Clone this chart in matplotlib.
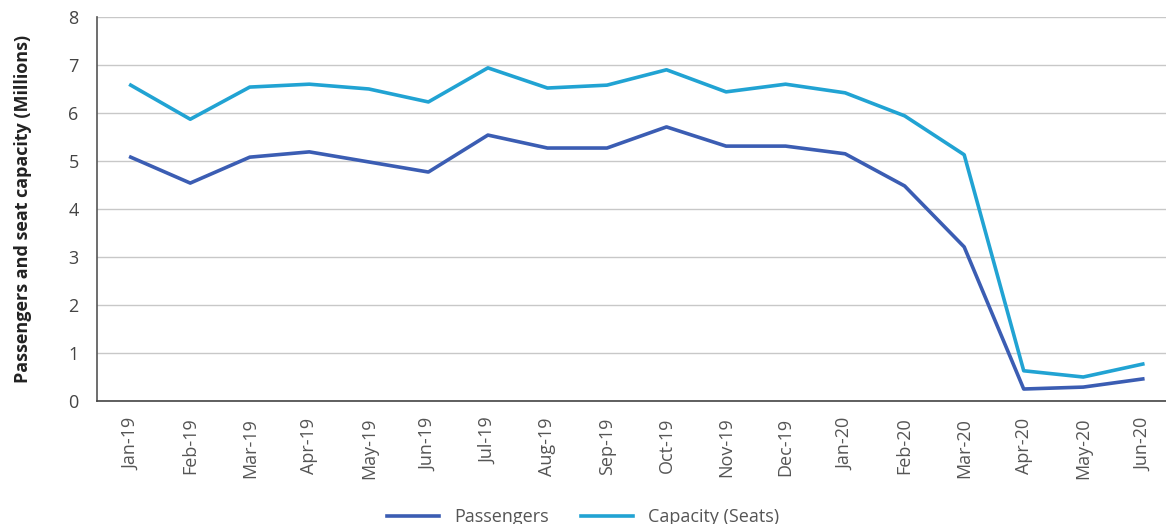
import matplotlib
matplotlib.use("Agg")
import matplotlib.pyplot as plt

months = ["Jan-19", "Feb-19", "Mar-19", "Apr-19", "May-19", "Jun-19", "Jul-19",
          "Aug-19", "Sep-19", "Oct-19", "Nov-19", "Dec-19", "Jan-20", "Feb-20",
          "Mar-20", "Apr-20", "May-20", "Jun-20"]
passengers = [5.08, 4.54, 5.08, 5.19, 4.98, 4.77, 5.54, 5.27, 5.27, 5.71,
              5.31, 5.31, 5.15, 4.48, 3.21, 0.25, 0.29, 0.46]
capacity = [6.58, 5.87, 6.54, 6.60, 6.50, 6.23, 6.94, 6.52, 6.58, 6.90,
            6.44, 6.60, 6.42, 5.94, 5.13, 0.63, 0.50, 0.77]
yticks = [0, 1, 2, 3, 4, 5, 6, 7, 8]

plt.rcParams['font.family'] = ['Open Sans', 'DejaVu Sans']

fig = plt.figure(figsize=(11.66, 5.24), dpi=100)
ax = fig.add_axes([0.083, 0.2347, 0.917, 0.7329])

x = list(range(len(months)))
ax.plot(x, passengers, color="#3b5db3", lw=2.6, label="Passengers", solid_joinstyle="round")
ax.plot(x, capacity, color="#21a3d3", lw=2.6, label="Capacity (Seats)", solid_joinstyle="round")

ax.set_xlim(-0.57, 17.39)
ax.set_ylim(0, 8)
ax.set_yticks(yticks)
ax.set_yticklabels([str(v) for v in yticks], fontsize=13, color="#444444")
ax.set_xticks(x)
ax.set_xticklabels(months, rotation=90, fontsize=13, color="#555555")
ax.tick_params(axis="both", length=0)
ax.tick_params(axis="y", pad=13)
ax.tick_params(axis="x", pad=12)

ax.grid(axis="y", color="#c8c8c8", lw=1.0)
ax.set_axisbelow(True)
for s in ["top", "right"]:
    ax.spines[s].set_visible(False)
ax.spines["left"].set_color("#555555")
ax.spines["bottom"].set_color("#444444")
ax.spines["left"].set_linewidth(1.2)
ax.spines["bottom"].set_linewidth(1.2)

ax.set_ylabel("Passengers and seat capacity (Millions)", fontsize=13,
              fontweight="bold", color="#222222", labelpad=26)

leg = fig.legend(loc="lower center", bbox_to_anchor=(0.5, -0.035), ncol=2,
                 frameon=False, fontsize=13, handlelength=2.9, columnspacing=1.8,
                 handletextpad=0.8)
for t in leg.get_texts():
    t.set_color("#555555")

fig.savefig("out.png", dpi=100)
